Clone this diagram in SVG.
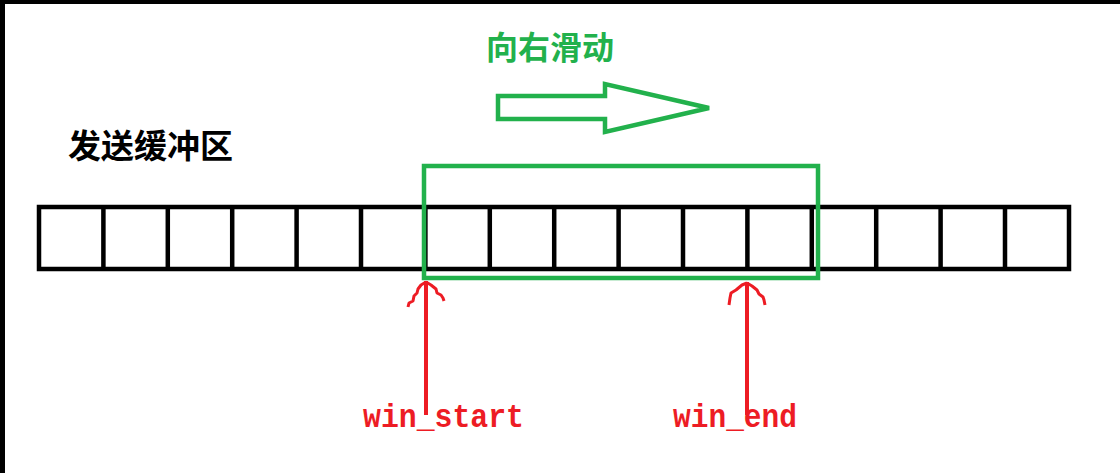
<svg xmlns="http://www.w3.org/2000/svg" width="1120" height="473" viewBox="0 0 1120 473">
<style>
.cell{fill:#fff;stroke:#000;stroke-width:4.5}
.div{stroke:#000;stroke-width:4.5}
.green{fill:none;stroke:#22B14C;stroke-width:4.5}
.red{fill:none;stroke:#ED1C24;stroke-width:4;stroke-linejoin:round;stroke-linecap:butt}
.redhead{fill:none;stroke:#ED1C24;stroke-width:3;stroke-linejoin:round}
.cjk{font-family:"Noto Sans CJK SC","Noto Sans CJK JP",sans-serif;font-weight:bold}
.mono{font-family:"Liberation Mono","DejaVu Sans Mono",monospace;font-weight:bold;fill:#ED1C24;font-size:34px}
</style>
<rect x="0" y="0" width="1120" height="473" fill="#fff"/>
<rect x="0" y="0" width="1120" height="4" fill="#000"/>
<rect x="0" y="0" width="5" height="473" fill="#000"/>

<g id="label-buffer">
<text class="cjk" x="68" y="158" font-size="33" fill="#000">发送缓冲区</text>
</g>

<g id="label-slide">
<text class="cjk" x="486" y="59" font-size="32" fill="#22B14C">向右滑动</text>
</g>

<g id="slide-arrow">
<polygon class="green" points="498,96 605,96 605,84 709,108 605,132 605,119 498,119"/>
</g>

<g id="buffer">
<rect class="cell" x="39" y="207" width="1030" height="62"/>
<path class="div" d="M103.4 207V269M167.8 207V269M232.2 207V269M296.6 207V269M361 207V269M425.4 207V269M489.8 207V269M554.2 207V269M618.6 207V269M683 207V269M747.4 207V269M811.8 207V269M876.2 207V269M940.6 207V269M1005 207V269"/>
</g>

<g id="window">
<rect class="green" x="424" y="166" width="394" height="112"/>
</g>

<g id="connectors">
<path class="red" d="M426 281V415"/>
<path class="redhead" d="M426 282L421 285L418 289L417 293L414 296L413 301L409 303L408 307M426 282L431 285L436 289L437 293L441 295L443 298L444 301"/>
<path class="red" d="M747 282V415"/>
<path class="redhead" d="M747 283L742 285L736 290L731 293L730 298L729 305M747 283L752 286L757 290L759 294L763 297L764 300L765 305"/>
</g>

<g id="label-win-start">
<text class="mono" x="363" y="427" textLength="161" lengthAdjust="spacingAndGlyphs">win_start</text>
</g>
<g id="label-win-end">
<text class="mono" x="673" y="427" textLength="124" lengthAdjust="spacingAndGlyphs">win_end</text>
</g>
</svg>
